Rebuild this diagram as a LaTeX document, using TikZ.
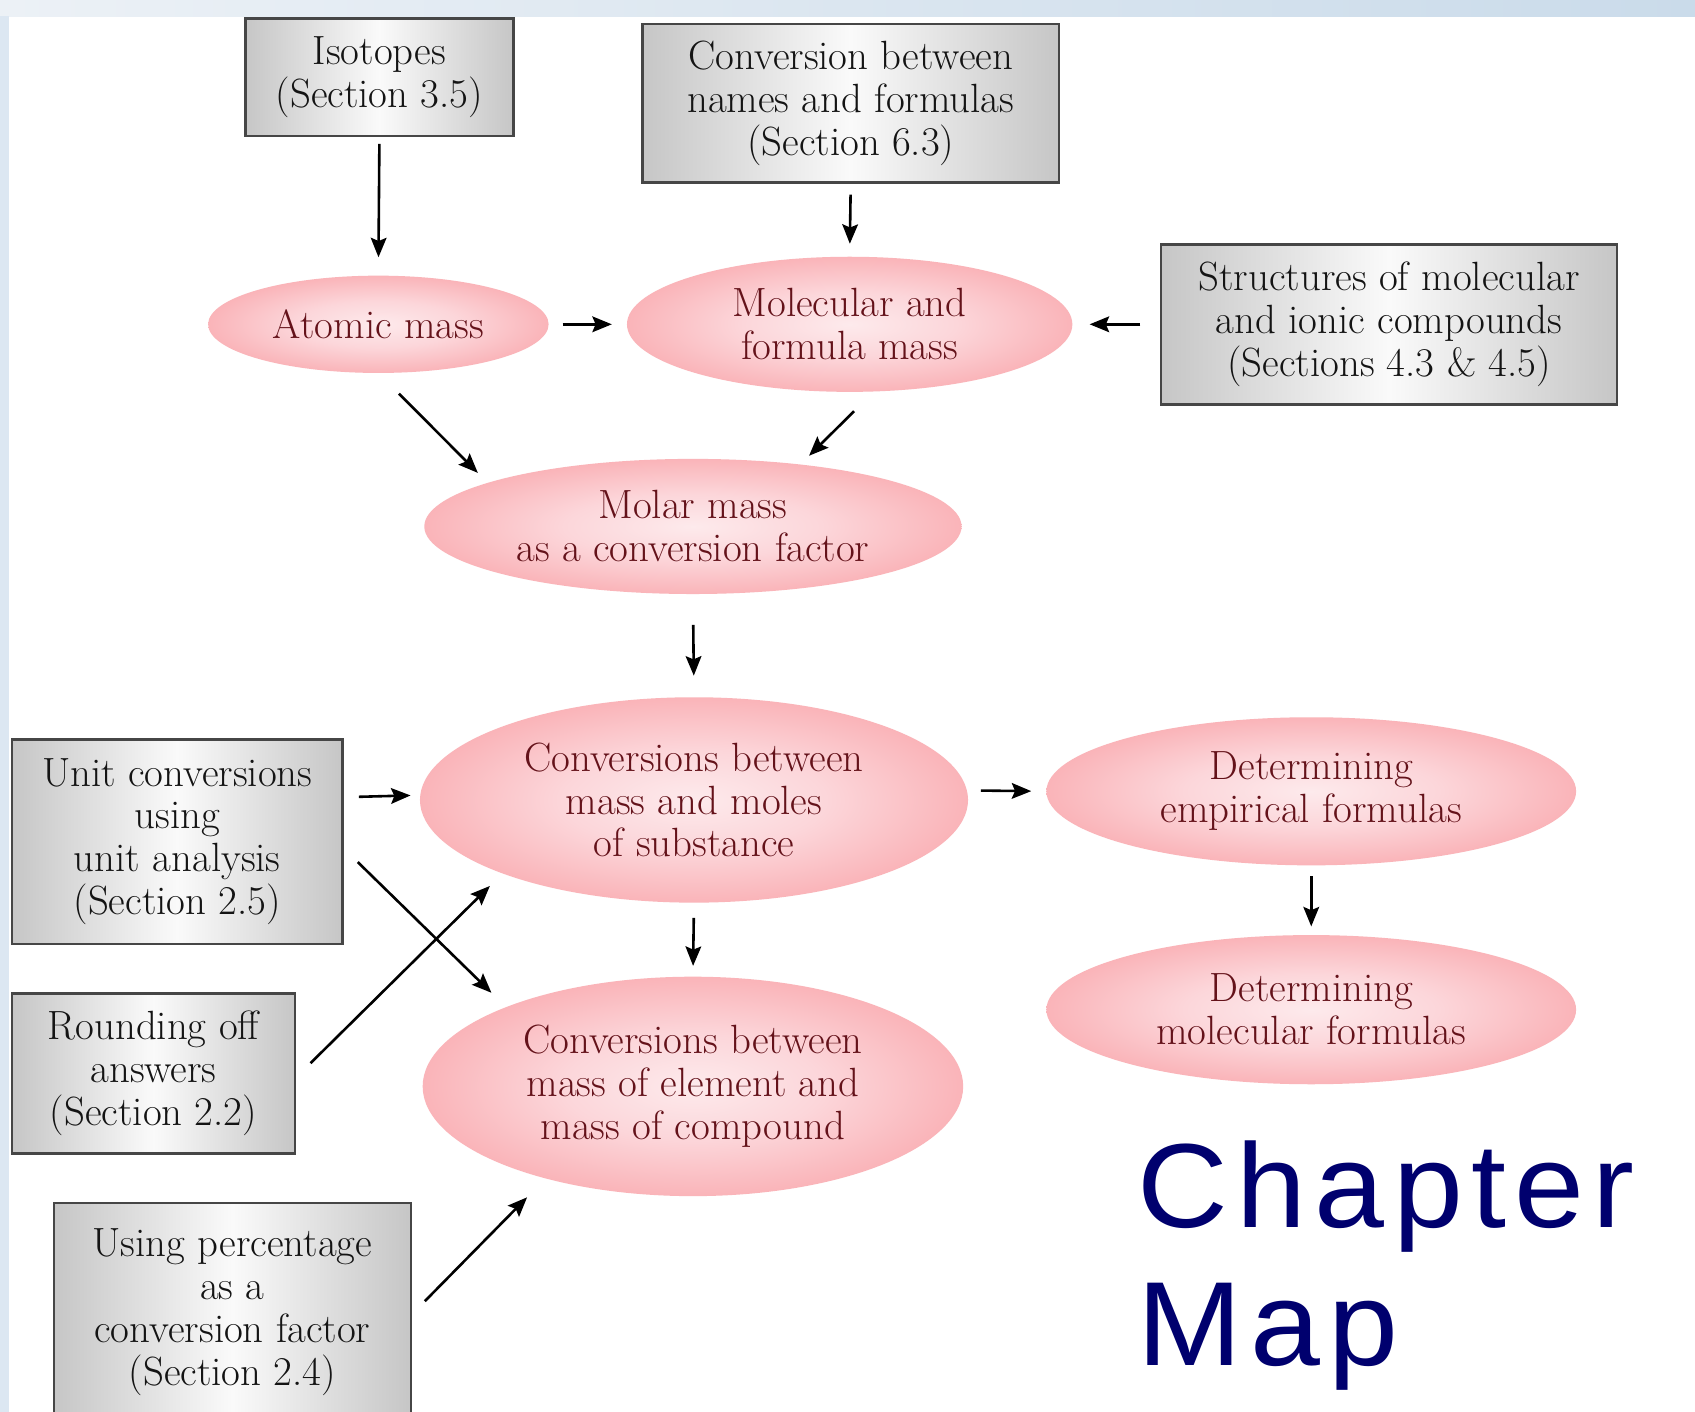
\documentclass[tikz,border=0pt]{standalone}
\usepackage{fontspec}
\usepackage{tikz}
\usetikzlibrary{arrows.meta,positioning,shapes.geometric}
\newfontfamily\mapfont[FakeStretch=1.05,LetterSpace=7]{Liberation Sans}
\definecolor{ink}{RGB}{20,20,20}
\definecolor{wine}{RGB}{100,18,26}
\definecolor{boxedge}{RGB}{198,198,198}
\definecolor{boxmid}{RGB}{250,250,250}
\definecolor{frame}{RGB}{70,70,70}
\definecolor{pkin}{RGB}{253,234,236}
\definecolor{pkpale}{RGB}{252,214,218}
\definecolor{pkmid}{RGB}{249,172,177}
\definecolor{pkout}{RGB}{247,134,141}
\definecolor{pkdeep}{RGB}{234,128,135}
\definecolor{pkrim}{RGB}{212,150,155}
\definecolor{navy}{RGB}{0,0,110}
\definecolor{bandl}{RGB}{236,241,246}
\definecolor{bandr}{RGB}{202,219,234}
\definecolor{bandside}{RGB}{220,231,242}
\pgfdeclareradialshading{pinkglow}{\pgfpoint{0bp}{0bp}}{color(0bp)=(pkin); color(12bp)=(pkpale); color(28bp)=(pkmid); color(38bp)=(pkout); color(44bp)=(pkdeep); color(47bp)=(pkrim); color(50bp)=(white)}

\begin{document}
\begin{tikzpicture}[x=0.2mm, y=-0.2mm,
  every node/.style={font=\fontsize{21.5}{22.6}\selectfont},
  topic/.style={draw=frame, line width=0.45mm, left color=boxedge, right color=boxedge, middle color=boxmid, text=ink, align=center, inner sep=0pt, outer sep=0pt},
  idea/.style={ellipse, shading=pinkglow, text=wine, align=center, inner sep=0pt, outer sep=0pt},
  link/.style={-{Stealth[length=3.6mm, width=2.9mm, inset=0.6mm]}, line width=0.48mm, black}
]
\useasboundingbox (0,0) rectangle (1568,1306);
\fill[white] (0,0) rectangle (1568,1306);
\shade[left color=bandl, right color=bandr] (0,0) rectangle (1568,15);
\fill[bandside] (0,15) rectangle (8,1306);

% source boxes
\node[topic, minimum width=49.6mm, minimum height=21.8mm] (iso) at (351,71.5) {Isotopes\\(Section 3.5)};
\node[topic, minimum width=77mm, minimum height=29.4mm] (names) at (787,95.5) {Conversion between\\names and formulas\\(Section 6.3)};
\node[topic, minimum width=84.4mm, minimum height=29.6mm] (struct) at (1285,300) {Structures of molecular\\and ionic compounds\\(Sections 4.3 \& 4.5)};
\node[topic, minimum width=61.2mm, minimum height=37.8mm] (unit) at (164,778.5) {Unit conversions\\using\\unit analysis\\(Section 2.5)};
\node[topic, minimum width=52.4mm, minimum height=29.6mm] (round) at (142,993) {Rounding off\\answers\\(Section 2.2)};
\node[topic, minimum width=66mm, minimum height=40.4mm] (pct) at (215,1214) {Using percentage\\as a\\conversion factor\\(Section 2.4)};

% ideas
\node[idea, minimum width=63mm, minimum height=18mm] (atomic) at (350,300) {Atomic mass};
\node[idea, minimum width=82.4mm, minimum height=25mm] (molec) at (786,300) {Molecular and\\formula mass};
\node[idea, minimum width=99.4mm, minimum height=25mm] (molar) at (641,487) {Molar mass\\as a conversion factor};
\node[idea, minimum width=101.4mm, minimum height=38mm] (mm) at (642,740) {Conversions between\\mass and moles\\of substance};
\node[idea, minimum width=100mm, minimum height=40.6mm] (ec) at (641,1005) {Conversions between\\mass of element and\\mass of compound};
\node[idea, minimum width=98mm, minimum height=27.4mm] (emp) at (1213,732) {Determining\\empirical formulas};
\node[idea, minimum width=98mm, minimum height=27.6mm] (mol) at (1213,934) {Determining\\molecular formulas};

\node[font=\mapfont\fontsize{63}{72.6}\selectfont, text=navy, align=left, anchor=base west, inner sep=0pt] (title) at (1052,1263) {Chapter\\Map};

\draw[link, shorten <=1.4mm, shorten >=3.4mm] (iso.south) -- (atomic.north);
\draw[link, shorten <=2.2mm, shorten >=2.4mm] (names.south) -- (molec.north);
\draw[link, shorten <=2.6mm, shorten >=2.8mm] (atomic.east) -- (molec.west);
\draw[link, shorten <=3.8mm, shorten >=3.2mm] (struct.west) -- (molec.east);
\draw[link, shorten <=5.4mm, shorten >=2.6mm] (atomic.south) -- (molar.168);
\draw[link, shorten <=5.2mm, shorten >=2.3mm] (molec.-70) -- (molar.30);
\draw[link, shorten <=5.7mm, shorten >=4mm] (molar.south) -- (mm.north);
\draw[link, shorten <=3mm, shorten >=1.8mm] (unit.15) -- (mm.179);
\draw[link, shorten <=3.9mm, shorten >=3.8mm] (unit.-2) -- (ec.157);
\draw[link, shorten <=4mm, shorten >=3.3mm] (round.-2) -- (mm.201);
\draw[link, shorten <=2.8mm, shorten >=2mm] (mm.south) -- (ec.north);
\draw[link, shorten <=2.6mm, shorten >=2.8mm] (mm.2) -- (emp.west);
\draw[link, shorten <=2mm, shorten >=1.6mm] (emp.south) -- (mol.north);
\draw[link, shorten <=3.7mm, shorten >=4.9mm] (pct.-1) -- (ec.212);
\end{tikzpicture}
\end{document}
